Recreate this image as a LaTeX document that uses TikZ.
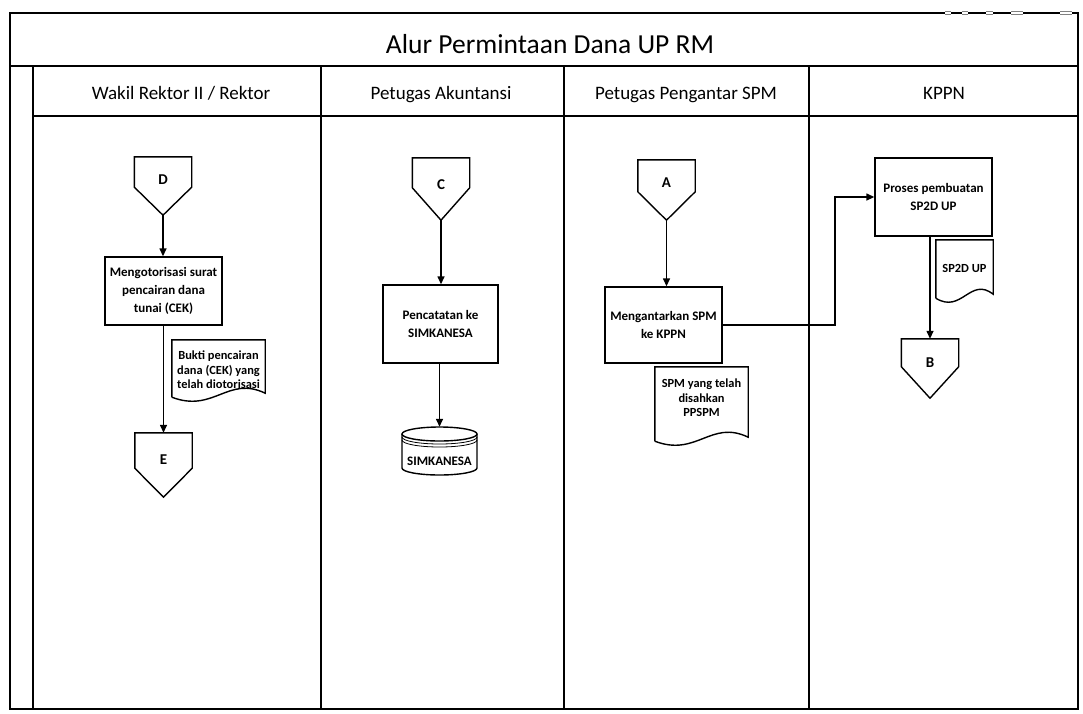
\documentclass[tikz,border=0pt]{standalone}
\usepackage{fontspec}
\setmainfont{Carlito}
\usetikzlibrary{arrows.meta,calc}

% off-page connector: rectangle on top, point at the bottom
\newcommand\offpageoutline[2]{%
  \draw[flow,line join=miter] (#1.south)
    -- ($(#1.north west)!#2!(#1.south west)$) -- (#1.north west)
    -- (#1.north east) -- ($(#1.north east)!#2!(#1.south east)$) -- cycle;}
% document symbol with a wavy lower edge
\newcommand\docoutline[1]{%
  \draw[flow,line join=miter] (#1.south west) -- (#1.north west) -- (#1.north east)
    -- ($(#1.south east)+(0,-4)$)
    .. controls ($(#1.south west)!0.6!(#1.south east)+(0,-22)$)
    and ($(#1.south west)!0.45!(#1.south east)+(0,16)$) .. (#1.south west);}

\tikzset{
  frame/.style={line width=1.8pt},
  flow/.style={line width=1.4pt},
  proc/.style={draw, flow, align=center, inner sep=2pt,
    font=\bfseries\fontsize{13}{18}\selectfont},
  docshape/.style={inner sep=0pt},
  doctext/.style={align=center, inner sep=0pt,
    font=\bfseries\fontsize{12.4}{14.5}\selectfont},
  offpg/.style={minimum width=57pt, inner sep=0pt},
  conlab/.style={font=\bfseries\fontsize{15}{17}\selectfont, inner sep=0pt},
  lanehead/.style={font=\fontsize{19}{22}\selectfont, inner sep=0pt, anchor=base},
  titletext/.style={font=\fontsize{27.5}{32}\selectfont, inner sep=0pt, anchor=base},
  link/.style={flow, -{Triangle[length=8pt,width=7pt]}},
}

\begin{document}
\begin{tikzpicture}[x=1pt,y=-1pt]
\useasboundingbox (0,0) rectangle (1083,713);

% pool frame, title band and lane header band
\draw[frame] (10,13) rectangle (1078,709);
\draw[frame] (10,66) -- (1078,66);
\draw[frame] (33,66) -- (33,709);
\draw[frame] (33,116) -- (1078,116);
\foreach \x in {321,564,809} \draw[frame] (\x,66) -- (\x,709);

% small marks on the top edge
\foreach \a/\b in {945/951,962/968,986/993,1011/1023,1060/1072}{
  \fill[white] (\a,11.2) rectangle (\b,14.8);
  \draw[gray,line width=0.6pt] (\a,11.6) -- (\b,11.6) (\a,14.4) -- (\b,14.4);}

\node[titletext] (title) at (550,53) {Alur Permintaan Dana UP RM};
\node[lanehead] (h1) at (181,99) {Wakil Rektor II / Rektor};
\node[lanehead] (h2) at (441,99) {Petugas Akuntansi};
\node[lanehead] (h3) at (686,99) {Petugas Pengantar SPM};
\node[lanehead] (h4) at (944,99) {KPPN};

% lane 1: Wakil Rektor II / Rektor
\node[offpg, minimum height=58pt] (D) at (163,186) {};
\offpageoutline{D}{0.52}
\node[conlab] (Dl) at (163,180) {D};
\node[proc, minimum width=117pt, minimum height=68pt] (P1) at (163.5,291)
  {Mengotorisasi surat\\pencairan dana\\tunai (CEK)};
\node[docshape, minimum width=93pt, minimum height=57pt] (Doc1) at (218.5,368.5) {};
\docoutline{Doc1}
\node[doctext] (Doc1t) at (218.5,370)
  {Bukti pencairan\\dana (CEK) yang\\telah diotorisasi};
\node[offpg, minimum height=64pt] (E) at (163.5,465) {};
\offpageoutline{E}{0.55}
\node[conlab] (El) at (163.5,460) {E};

% lane 2: Petugas Akuntansi
\node[offpg, minimum height=62pt] (C) at (441,189) {};
\offpageoutline{C}{0.48}
\node[conlab] (Cl) at (441,185) {C};
\node[proc, minimum width=115pt, minimum height=78pt] (P2) at (440.5,324)
  {Pencatatan ke\\SIMKANESA};
\node[minimum width=75pt, minimum height=48pt, inner sep=0pt] (DB) at (439.5,451) {};
\draw[flow] (402,434) -- (402,468)
  arc[start angle=180, end angle=0, x radius=37.5, y radius=7] -- (477,434);
\draw[flow] (439.5,434) ellipse[x radius=37.5, y radius=7];
\draw[line width=0.8pt] (402,437) arc[start angle=180, end angle=0, x radius=37.5, y radius=7];
\draw[line width=0.8pt] (402,440) arc[start angle=180, end angle=0, x radius=37.5, y radius=7];
\node[conlab, font=\bfseries\fontsize{13}{15}\selectfont] (DBl) at (439.5,461) {SIMKANESA};

% lane 3: Petugas Pengantar SPM
\node[offpg, minimum height=60pt] (A) at (666.5,190) {};
\offpageoutline{A}{0.53}
\node[conlab] (Al) at (666.5,183) {A};
\node[proc, minimum width=117pt, minimum height=76pt] (P3) at (663.5,325)
  {Mengantarkan SPM\\ke KPPN};
\node[docshape, minimum width=93pt, minimum height=74pt] (Doc2) at (701.5,404) {};
\docoutline{Doc2}
\node[doctext] (Doc2t) at (701.5,398) {SPM yang telah\\disahkan\\PPSPM};

% lane 4: KPPN
\node[proc, minimum width=117pt, minimum height=78pt] (P4) at (933.5,197)
  {Proses pembuatan\\SP2D UP};
\node[docshape, minimum width=57pt, minimum height=58pt] (Doc3) at (964.5,269) {};
\docoutline{Doc3}
\node[doctext] (Doc3t) at (964.5,268) {SP2D UP};
\node[offpg, minimum height=59pt] (B) at (930,368.5) {};
\offpageoutline{B}{0.47}
\node[conlab] (Bl) at (930,363) {B};

% flow connectors
\coordinate (knee) at (835,0);
\draw[link] (D.south) -- (D.south |- P1.north);
\draw[link] (E.north |- P1.south) -- (E.north);
\draw[link] (C.south) -- (C.south |- P2.north);
\draw[link] (DB.north |- P2.south) -- (DB.north);
\draw[link] (A.south) -- (A.south |- P3.north);
\draw[link] (P3.east) -- (P3.east -| knee) -- (knee |- P4.west) -- (P4.west);
\draw[link] (B.north |- P4.south) -- (B.north);
\end{tikzpicture}
\end{document}
